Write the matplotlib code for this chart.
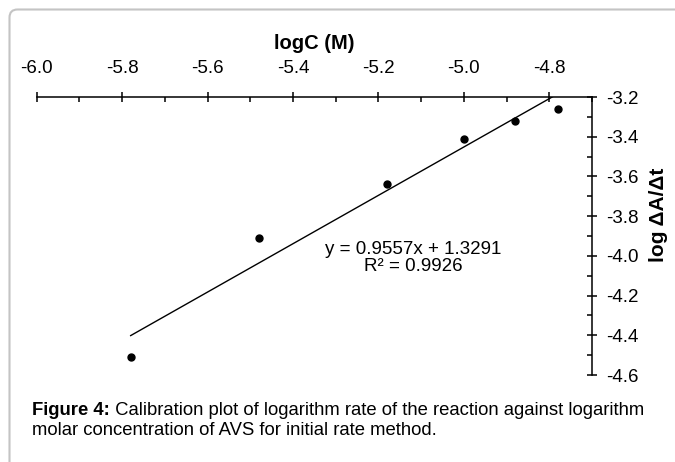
import numpy as np
import matplotlib
matplotlib.use("Agg")
import matplotlib.pyplot as plt
from matplotlib.patches import FancyBboxPatch
from matplotlib.ticker import MultipleLocator, FormatStrFormatter
from matplotlib.transforms import IdentityTransform

plt.rcParams['font.family'] = ['Liberation Sans', 'DejaVu Sans']
plt.rcParams['axes.unicode_minus'] = False

# log of concentration (M) and log of initial rate
log_conc = [-5.78, -5.48, -5.18, -5.00, -4.88, -4.78]
log_rate = [-4.51, -3.91, -3.64, -3.41, -3.32, -3.26]

fit_text = "y = 0.9557x + 1.3291\nR\u00b2 = 0.9926"
caption_bold = "Figure 4:"
caption_line1 = " Calibration plot of logarithm rate of the reaction against logarithm"
caption_line2 = "molar concentration of AVS for initial rate method."

W, H = 675, 462
fig = plt.figure(figsize=(W / 100, H / 100), dpi=100)
ax = fig.add_axes([36.7 / W, 1 - 375 / H, (592 - 36.7) / W, (375 - 97) / H])

x = np.array(log_conc)
y = np.array(log_rate)
# least squares line, drawn until it runs into the top axis
slope, icept = np.polyfit(x, y, 1)
xl = np.linspace(x.min(), -4.7, 50)
ax.plot(xl, slope * xl + icept, color='black', lw=1.0)
ax.plot(x, y, 'o', color='black', ms=5)

ax.set_xlim(-6.0, -4.7)
ax.set_ylim(-4.6, -3.2)
for s in ['left', 'bottom']:
    ax.spines[s].set_visible(False)
for s in ['top', 'right']:
    ax.spines[s].set_linewidth(1.1)

ax.xaxis.tick_top()
ax.yaxis.tick_right()
ax.xaxis.set_major_locator(MultipleLocator(0.2))
ax.xaxis.set_minor_locator(MultipleLocator(0.1))
ax.yaxis.set_major_locator(MultipleLocator(0.2))
ax.yaxis.set_minor_locator(MultipleLocator(0.1))
ax.xaxis.set_major_formatter(FormatStrFormatter('%.1f'))
ax.yaxis.set_major_formatter(FormatStrFormatter('%.1f'))
ax.tick_params(which='major', direction='inout', length=7, width=1.1, labelsize=13.5)
ax.tick_params(which='minor', direction='in', length=3.5, width=1.1)
ax.tick_params(axis='x', which='major', pad=11)
ax.tick_params(axis='y', which='major', pad=7)

ax.set_xlabel('logC (M)', fontsize=14.5, fontweight='bold', labelpad=8)
ax.xaxis.set_label_position('top')
fig.text(658 / W, 1 - 215 / H, 'log \u0394A/\u0394t', rotation=90, fontsize=15,
         fontweight='bold', ha='center', va='center')

ax.text(-5.118, -4.01, fit_text, ha='center', va='center', fontsize=13.5,
        multialignment='center', linespacing=0.95)

# caption under the plot
t1 = fig.text(32 / W, 1 - 415 / H, caption_bold, fontsize=13.3, fontweight='bold',
              va='baseline')
ax.annotate(caption_line1, xy=(1, 0), xycoords=t1, va='bottom', fontsize=13.3,
            annotation_clip=False)
fig.text(32 / W, 1 - 435 / H, caption_line2, fontsize=13.3, va='baseline')

# rounded grey frame around the figure panel
frame = FancyBboxPatch((9.5, -30), 700, H - 9.5 + 30,
                       boxstyle='round,pad=0,rounding_size=8',
                       transform=IdentityTransform(), fill=False,
                       edgecolor='#c4c4c4', lw=1.5)
fig.add_artist(frame)

fig.savefig('out.png', dpi=100)
